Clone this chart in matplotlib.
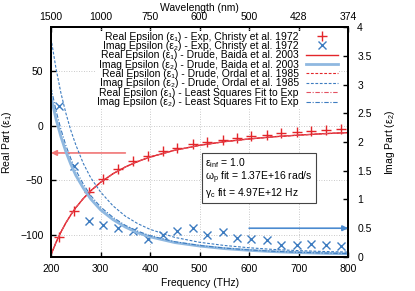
import numpy as np
import matplotlib.pyplot as plt

plt.rcParams['font.family'] = ['Liberation Sans', 'DejaVu Sans']
plt.rcParams['mathtext.fontset'] = 'custom'
plt.rcParams['mathtext.rm'] = 'Liberation Sans'
plt.rcParams['mathtext.default'] = 'regular'
plt.rcParams['font.size'] = 7.5

# experimental points (Christy et al. 1972)
f_exp = [215.2, 246.6, 275.7, 304.7, 336.1, 365.1, 396.6, 425.6, 454.6, 486.0,
         515.0, 546.5, 575.5, 604.5, 635.9, 665.0, 696.4, 725.4, 754.4, 785.9]
eps1_exp = [-102.0, -77.9, -60.8, -48.9, -39.8, -32.8, -27.5, -23.4, -20.1, -17.2,
            -14.9, -12.9, -11.1, -9.6, -8.2, -7.1, -6.1, -5.2, -4.3, -3.5]
eps2_exp = [2.63, 1.59, 0.62, 0.56, 0.51, 0.46, 0.32, 0.39, 0.45, 0.50,
            0.39, 0.43, 0.33, 0.31, 0.29, 0.21, 0.20, 0.23, 0.21, 0.19]

# model curves
f_model = [200, 210, 220, 230, 240, 250, 265, 280, 300, 325, 350, 375, 400,
           450, 500, 550, 600, 650, 700, 750, 800]
eps1_model = [-117.8, -106.8, -97.2, -88.8, -81.5, -75.0, -66.7, -59.6, -51.8, -44.0,
              -37.8, -32.8, -28.7, -22.5, -18.0, -14.7, -12.2, -10.2, -8.7, -7.4, -6.4]
eps2_baida = [2.78, 2.40, 2.09, 1.83, 1.61, 1.42, 1.20, 1.01, 0.82, 0.65, 0.52,
              0.42, 0.35, 0.25, 0.19, 0.145, 0.115, 0.092, 0.076, 0.064, 0.055]
eps2_ordal = [3.80, 3.28, 2.85, 2.50, 2.20, 1.95, 1.63, 1.38, 1.13, 0.89, 0.71,
              0.58, 0.48, 0.34, 0.255, 0.20, 0.16, 0.13, 0.11, 0.095, 0.085]
eps2_lsq = [2.95, 2.55, 2.22, 1.94, 1.71, 1.51, 1.27, 1.07, 0.87, 0.69, 0.55,
            0.45, 0.37, 0.265, 0.20, 0.155, 0.122, 0.098, 0.081, 0.068, 0.058]

freq_ticks = [200, 300, 400, 500, 600, 700, 800]
wavelength_labels = ['1500', '1000', '750', '600', '500', '428', '374']

red = '#e3262a'
blue = '#3d7cc0'
lightblue = '#8fb8e0'

fig = plt.figure(figsize=(4.15, 2.91), dpi=100)
ax = fig.add_axes([0.123, 0.117, 0.716, 0.790])
ax2 = ax.twinx()

ax.grid(True, color='#b8b8b8', linestyle=(0, (1, 2)), linewidth=0.6)
h1, = ax.plot(f_exp, eps1_exp, '+', color=red, ms=7, mew=1.0,
              label='Real Epsilon (ε₁) - Exp, Christy et al. 1972')
h2, = ax2.plot(f_exp, eps2_exp, 'x', color=blue, ms=6, mew=1.0,
               label='Imag Epsilon (ε₂) - Exp, Christy et al. 1972')
h3, = ax.plot(f_model, eps1_model, '-', color=red, lw=1.0,
              label='Real Epsilon (ε₁) - Drude, Baida et al. 2003')
h4, = ax2.plot(f_model, eps2_baida, '-', color=lightblue, lw=2.0,
               label='Imag Epsilon (ε₂) - Drude, Baida et al. 2003')
h5, = ax.plot(f_model, eps1_model, color=red, lw=0.8, ls=(0, (2.5, 1.5)),
              label='Real Epsilon (ε₁) - Drude, Ordal et al. 1985')
h6, = ax2.plot(f_model, eps2_ordal, color=blue, lw=0.8, ls=(0, (2.5, 1.5)),
               label='Imag Epsilon (ε₂) - Drude, Ordal et al. 1985')
h7, = ax.plot(f_model, eps1_model, color='#e35060', lw=0.8, ls=(0, (4, 1.5, 1, 1.5)),
              label='Real Epsilon (ε₁) - Least Squares Fit to Exp')
h8, = ax2.plot(f_model, eps2_lsq, color=blue, lw=0.8, ls=(0, (4, 1.5, 1, 1.5)),
               label='Imag Epsilon (ε₂) - Least Squares Fit to Exp')

ax.annotate('', xy=(200, -25), xytext=(350, -25),
            arrowprops=dict(arrowstyle='-|>', color='#f07575', lw=1.2,
                            mutation_scale=8, shrinkA=0, shrinkB=0))
ax2.annotate('', xy=(800, 0.5), xytext=(600, 0.5),
             arrowprops=dict(arrowstyle='-|>', color='#4a8ad0', lw=1.2,
                             mutation_scale=8, shrinkA=0, shrinkB=0))

ax2.text(511, 1.76, 'ε$_{inf}$ = 1.0\nω$_p$ fit = 1.37E+16 rad/s\nγ$_c$ fit = 4.97E+12 Hz',
         va='top', ha='left', linespacing=0.98, zorder=5,
         bbox=dict(boxstyle='square,pad=0.3', fc='white', ec='#444444', lw=0.8))

ax.set_xlim(200, 800)
ax.set_ylim(-120, 90)
ax2.set_ylim(0, 4)
ax.set_xticks(freq_ticks)
ax.set_yticks([-100, -50, 0, 50])
ax2.set_yticks(np.arange(0, 4.01, 0.5))
ax2.set_yticklabels(['0', '0.5', '1', '1.5', '2', '2.5', '3', '3.5', '4'])

sec = ax.secondary_xaxis('top')
sec.set_xticks(freq_ticks, labels=wavelength_labels)
sec.set_xlabel('Wavelength (nm)', labelpad=1)

ax.set_xlabel('Frequency (THz)', labelpad=3)
ax.set_ylabel('Real Part (ε$_1$)', labelpad=4)
ax2.set_ylabel('Imag Part (ε$_2$)', labelpad=8)

ax.tick_params(axis='x', direction='in', length=3.5, width=1.0, pad=5)
ax.tick_params(axis='y', direction='in', length=3.5, width=1.0, pad=5.5)
ax2.tick_params(axis='y', direction='in', length=3.5, width=1.0, pad=6.5)
sec.tick_params(direction='in', length=3.5, width=1.0, pad=3.5)
for s in ax.spines.values():
    s.set_linewidth(1.4)
for s in ax2.spines.values():
    s.set_linewidth(1.4)
sec.spines['top'].set_linewidth(1.4)

leg = ax2.legend(handles=[h1, h2, h3, h4, h5, h6, h7, h8], loc='upper right',
                 bbox_to_anchor=(0.97, 0.985),
                 markerfirst=False, frameon=True, fancybox=False, framealpha=1,
                 edgecolor='none', handlelength=3.1, handletextpad=0.7,
                 labelspacing=-0.06, borderpad=0.1, borderaxespad=0.0,
                 fontsize=7.5)
leg.set_zorder(10)

fig.savefig('out.png', dpi=100)
